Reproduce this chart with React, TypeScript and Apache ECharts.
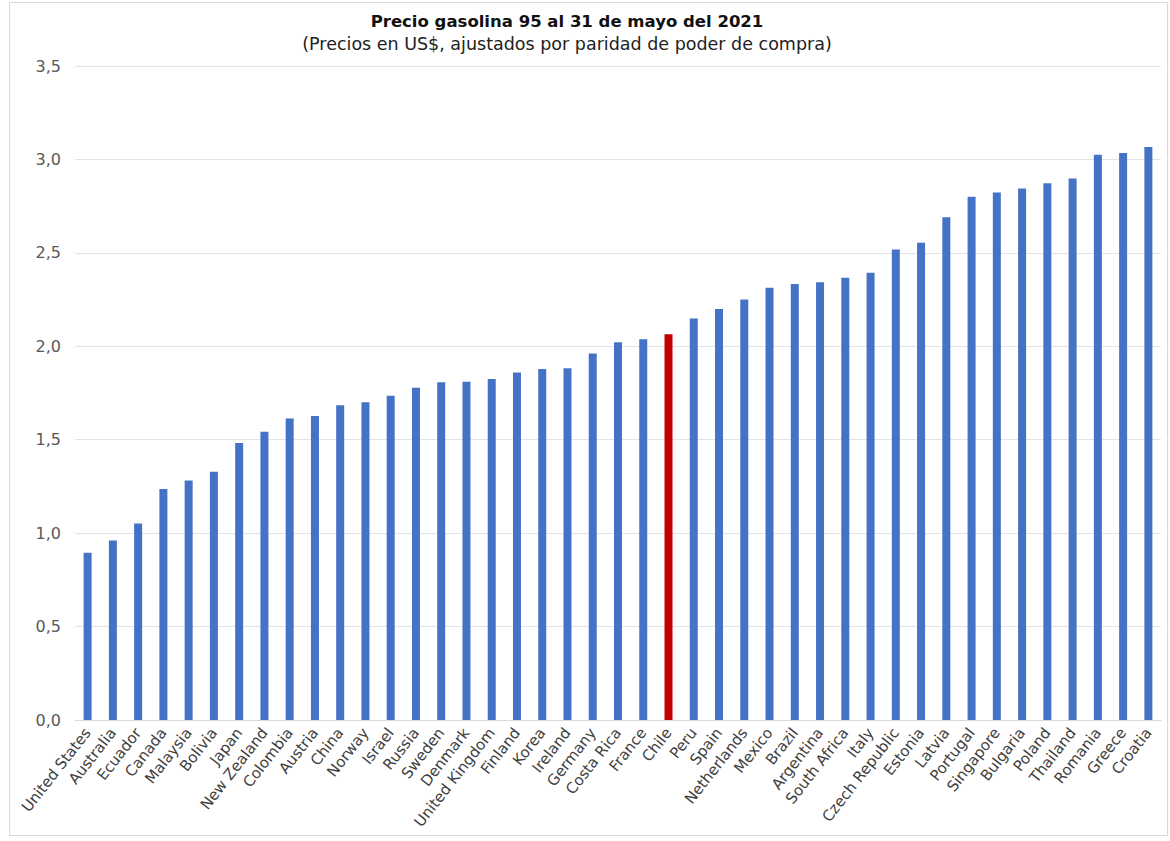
import React, { useEffect, useRef } from "react";
import * as echarts from "echarts";

const countries = [
  "United States", "Australia", "Ecuador", "Canada", "Malaysia", "Bolivia", "Japan", "New Zealand",
  "Colombia", "Austria", "China", "Norway", "Israel", "Russia", "Sweden", "Denmark", "United Kingdom",
  "Finland", "Korea", "Ireland", "Germany", "Costa Rica", "France", "Chile", "Peru", "Spain",
  "Netherlands", "Mexico", "Brazil", "Argentina", "South Africa", "Italy", "Czech Republic", "Estonia",
  "Latvia", "Portugal", "Singapore", "Bulgaria", "Poland", "Thailand", "Romania", "Greece", "Croatia",
];

const prices = [
  0.895, 0.96, 1.052, 1.236, 1.282, 1.329, 1.482, 1.543,
  1.614, 1.627, 1.685, 1.70, 1.735, 1.778, 1.807, 1.81, 1.825,
  1.86, 1.878, 1.882, 1.962, 2.022, 2.037, 2.064, 2.149, 2.20,
  2.25, 2.313, 2.334, 2.343, 2.367, 2.393, 2.518, 2.554,
  2.69, 2.80, 2.823, 2.845, 2.873, 2.898, 3.025, 3.035, 3.067,
];

const highlighted = "Chile";

const titleText = "Precio gasolina 95 al 31 de mayo del 2021";
const subtitleText = "(Precios en US$, ajustados por paridad de poder de compra)";

export default function App() {
  const ref = useRef<HTMLDivElement>(null);
  useEffect(() => {
    if (!ref.current) return;
    const chart = echarts.init(ref.current, null, { renderer: "svg" });
    const font = "'DejaVu Sans', sans-serif";
    chart.setOption({
      animation: false,
      backgroundColor: "#ffffff",
      title: {
        text: titleText,
        subtext: subtitleText,
        left: 562,
        textAlign: "center",
        top: 8,
        itemGap: 5,
        textStyle: { fontFamily: font, fontSize: 16.5, fontWeight: "bold", color: "#111111" },
        subtextStyle: { fontFamily: font, fontSize: 17.5, color: "#222222" },
      },
      graphic: [
        {
          type: "rect",
          shape: { x: 9.5, y: 2.5, width: 1158, height: 833 },
          style: { fill: "none", stroke: "#d9d9d9", lineWidth: 1 },
          silent: true,
        },
      ],
      grid: { left: 75, right: 9, top: 66, bottom: 121, containLabel: false },
      xAxis: {
        type: "category",
        data: countries,
        axisTick: { show: false },
        axisLine: { lineStyle: { color: "#d9d9d9", width: 1 } },
        axisLabel: {
          interval: 0,
          rotate: 52,
          margin: 10,
          fontFamily: font,
          fontSize: 15,
          color: "#404040",
        },
      },
      yAxis: {
        type: "value",
        min: 0,
        max: 3.5,
        interval: 0.5,
        axisLine: { show: false },
        axisTick: { show: false },
        splitLine: { lineStyle: { color: "#e3e3e3", width: 1 } },
        axisLabel: {
          margin: 14,
          fontFamily: font,
          fontSize: 16,
          color: "#595959",
          formatter: (v: number) => v.toFixed(1).replace(".", ","),
        },
      },
      series: [
        {
          type: "bar",
          barWidth: 8,
          data: prices.map((v, i) => ({
            value: v,
            itemStyle: { color: countries[i] === highlighted ? "#c00000" : "#4472c4" },
          })),
        },
      ],
    });
    return () => chart.dispose();
  }, []);
  return (
    <div
      ref={ref}
      style={{ position: "fixed", left: 0, top: 0, width: 1170, height: 841 }}
    />
  );
}
